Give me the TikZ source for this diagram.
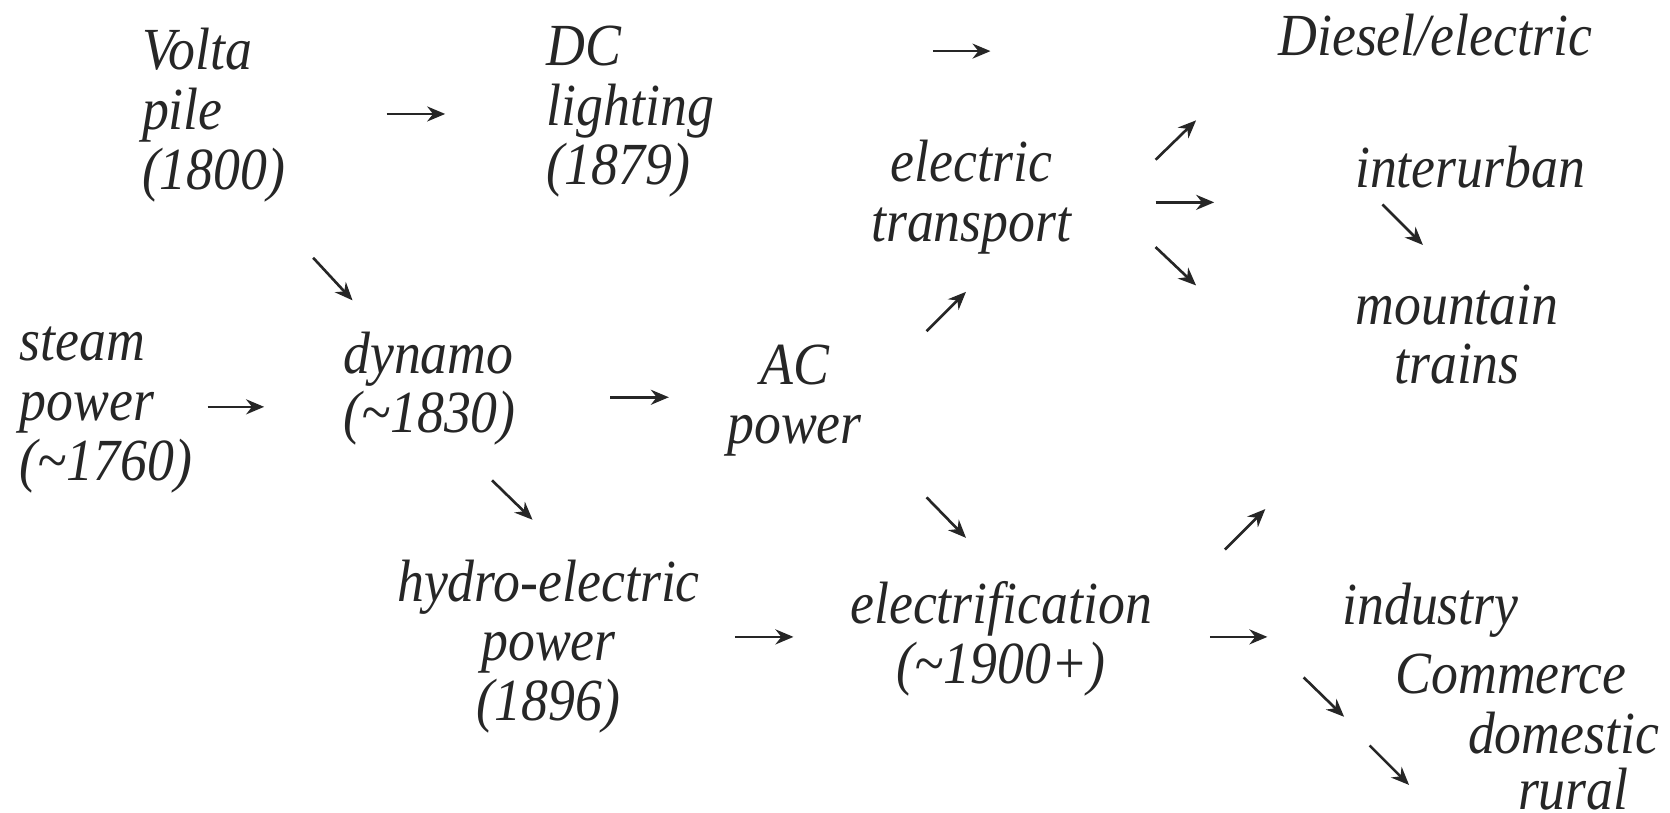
\documentclass[tikz,border=0pt]{standalone}
\usepackage{fontspec}
\newfontfamily\diagfont{Liberation Serif}[FakeStretch=0.9]
\usepackage{tikz}
\usetikzlibrary{positioning,arrows.meta}

\begin{document}
\begin{tikzpicture}[
    x=0.0213cm, y=-0.0213cm,
    every node/.style={inner sep=0pt, text=black!85, font=\diagfont\itshape\fontsize{34}{34}\selectfont},
    lft/.style={anchor=west, align=left},
    mid/.style={anchor=center, align=center},
    flow/.style={line width=1.5pt, draw=black!85, -{Stealth[length=3.6mm, width=3mm]}}
]
\useasboundingbox (0,0) rectangle (1568,763);

% stages
\node[lft] (volta)   at (133,108) {Volta\\pile\\(1800)};
\node[lft] (dclight) at (513,105) {DC\\lighting\\(1879)};
\node[lft] (diesel)  at (1200,33) {Diesel/electric};
\node[mid] (etrans)  at (912,185) {electric\\transport};
\node[lft] (inter)   at (1272,157) {interurban};
\node[mid] (mount)   at (1368,314) {mountain\\trains};
\node[lft] (steam)   at (18,385) {steam\\power\\(\textasciitilde1760)};
\node[lft] (dynamo)  at (322,365) {dynamo\\(\textasciitilde1830)};
\node[mid] (acpow)   at (746,376) {AC\\power};
\node[mid] (hydro)   at (515,607) {hydro-electric\\power\\(1896)};
\node[mid] (electr)  at (940,600) {electrification\\(\textasciitilde1900+)};
\node[lft] (indus)   at (1260,573) {industry};
\node[lft] (comm)    at (1310,633) {Commerce};
\node[lft] (domest)  at (1378,688) {domestic};
\node[lft] (rural)   at (1425,741) {rural};

% arrow ends
\coordinate (a1) at (363,107);  \coordinate (b1) at (418,107);
\coordinate (a2) at (876,48);   \coordinate (b2) at (930,48);
\coordinate (a3) at (1085,150); \coordinate (b3) at (1123,113);
\coordinate (a4) at (1085,190); \coordinate (b4) at (1140,190);
\coordinate (a5) at (1085,232); \coordinate (b5) at (1123,268);
\coordinate (a6) at (1298,192); \coordinate (b6) at (1336,230);
\coordinate (a7) at (294,242);  \coordinate (b7) at (331,282);
\coordinate (a8) at (195,382);  \coordinate (b8) at (248,382);
\coordinate (a9) at (573,373);  \coordinate (b9) at (628,373);
\coordinate (a10) at (870,311); \coordinate (b10) at (907,274);
\coordinate (a11) at (870,467); \coordinate (b11) at (907,505);
\coordinate (a12) at (462,451); \coordinate (b12) at (500,488);
\coordinate (a13) at (690,598); \coordinate (b13) at (745,598);
\coordinate (a14) at (1150,516);\coordinate (b14) at (1188,478);
\coordinate (a15) at (1136,598);\coordinate (b15) at (1190,598);
\coordinate (a16) at (1224,636);\coordinate (b16) at (1262,673);
\coordinate (a17) at (1286,700);\coordinate (b17) at (1323,737);

\foreach \i in {1,...,17}
    \draw[flow] (a\i) -- (b\i);
\end{tikzpicture}
\end{document}
